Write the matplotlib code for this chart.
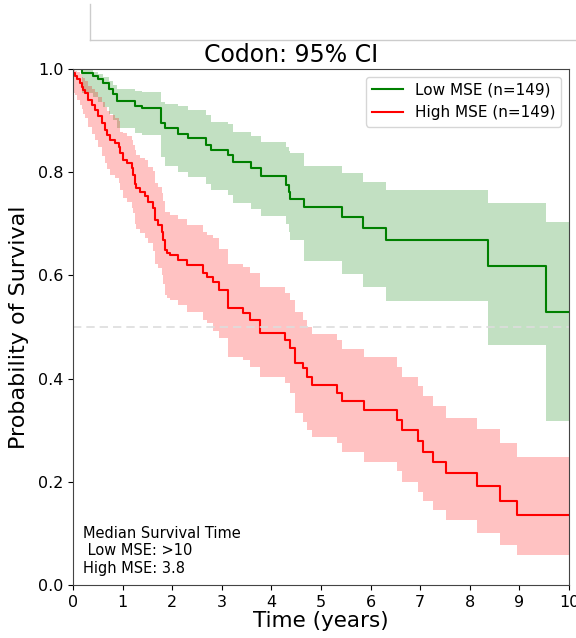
import numpy as np
import matplotlib as mpl
mpl.use('Agg')
import matplotlib.pyplot as plt
from matplotlib.lines import Line2D

# Low MSE (green) Kaplan-Meier steps: time, survival, 95% CI low / high
low_t = [0.0, 0.18, 0.41, 0.51, 0.61, 0.73, 0.81, 0.89, 1.25, 1.39, 1.77, 1.85, 2.12, 2.32,
         2.68, 2.78, 3.13, 3.22, 3.59, 3.79, 4.29, 4.36, 4.38, 4.66, 5.43, 5.85, 6.32, 8.36, 9.54]
low_s = [1.0, 0.993, 0.987, 0.980, 0.972, 0.961, 0.951, 0.938, 0.929, 0.924, 0.895, 0.885, 0.875, 0.867,
         0.853, 0.843, 0.833, 0.820, 0.808, 0.793, 0.775, 0.762, 0.748, 0.732, 0.713, 0.691, 0.669, 0.619, 0.529]
low_lo = [1.0, 0.953, 0.946, 0.937, 0.926, 0.913, 0.901, 0.885, 0.876, 0.872, 0.830, 0.812, 0.800, 0.790,
          0.778, 0.766, 0.755, 0.740, 0.728, 0.716, 0.700, 0.685, 0.668, 0.627, 0.603, 0.577, 0.551, 0.465, 0.318]
low_hi = [1.0, 0.999, 0.995, 0.990, 0.984, 0.977, 0.970, 0.962, 0.958, 0.955, 0.937, 0.933, 0.928, 0.921,
          0.911, 0.898, 0.893, 0.878, 0.871, 0.859, 0.849, 0.842, 0.837, 0.812, 0.798, 0.782, 0.766, 0.740, 0.704]

# High MSE (red)
high_t = [0.0, 0.01, 0.04, 0.08, 0.14, 0.18, 0.21, 0.24, 0.31, 0.38, 0.44, 0.51, 0.58, 0.65, 0.68,
          0.75, 0.85, 0.93, 0.95, 1.01, 1.09, 1.18, 1.21, 1.25, 1.28, 1.36, 1.45, 1.52, 1.62, 1.66,
          1.72, 1.79, 1.82, 1.85, 1.89, 1.96, 2.12, 2.29, 2.62, 2.70, 2.83, 2.95, 3.13, 3.43, 3.57,
          3.78, 4.27, 4.37, 4.48, 4.64, 4.71, 4.82, 5.32, 5.42, 5.86, 6.54, 6.63, 6.96, 7.06, 7.26,
          7.53, 8.14, 8.60, 8.96]
high_s = [1.0, 0.993, 0.987, 0.980, 0.973, 0.966, 0.960, 0.953, 0.940, 0.930, 0.920, 0.909, 0.895, 0.882, 0.872,
          0.862, 0.856, 0.849, 0.837, 0.824, 0.817, 0.808, 0.795, 0.778, 0.769, 0.762, 0.753, 0.743, 0.730, 0.707,
          0.698, 0.685, 0.668, 0.649, 0.643, 0.640, 0.630, 0.620, 0.604, 0.597, 0.588, 0.572, 0.536, 0.527, 0.514,
          0.488, 0.475, 0.459, 0.431, 0.420, 0.404, 0.388, 0.373, 0.357, 0.339, 0.320, 0.300, 0.280, 0.258, 0.239,
          0.218, 0.191, 0.163, 0.136]
high_lo = [1.0, 0.953, 0.950, 0.940, 0.930, 0.922, 0.913, 0.905, 0.888, 0.874, 0.862, 0.848, 0.832, 0.818, 0.806,
           0.795, 0.788, 0.780, 0.765, 0.750, 0.742, 0.731, 0.720, 0.700, 0.690, 0.683, 0.672, 0.662, 0.648, 0.623,
           0.614, 0.600, 0.583, 0.563, 0.557, 0.553, 0.543, 0.530, 0.514, 0.508, 0.492, 0.478, 0.442, 0.436, 0.423,
           0.404, 0.391, 0.372, 0.333, 0.315, 0.300, 0.287, 0.275, 0.258, 0.239, 0.220, 0.200, 0.181, 0.163, 0.145,
           0.126, 0.100, 0.078, 0.058]
high_hi = [1.0, 0.999, 0.997, 0.994, 0.990, 0.985, 0.982, 0.977, 0.968, 0.962, 0.955, 0.946, 0.936, 0.926, 0.918,
           0.910, 0.905, 0.900, 0.878, 0.876, 0.870, 0.863, 0.852, 0.843, 0.833, 0.827, 0.824, 0.810, 0.802, 0.780,
           0.772, 0.760, 0.745, 0.723, 0.722, 0.717, 0.710, 0.698, 0.685, 0.679, 0.672, 0.652, 0.623, 0.616, 0.604,
           0.578, 0.565, 0.552, 0.530, 0.514, 0.500, 0.486, 0.475, 0.457, 0.441, 0.423, 0.404, 0.386, 0.366, 0.347,
           0.323, 0.302, 0.276, 0.249]

t_end = 10.0
groups = [
    ("Low MSE (n=149)", low_t, low_s, low_lo, low_hi, "green"),
    ("High MSE (n=149)", high_t, high_s, high_lo, high_hi, "red"),
]
median_text = "Median Survival Time\n Low MSE: >10\nHigh MSE: 3.8"

fig = plt.figure(figsize=(5.76, 6.38), dpi=100)
ax = fig.add_axes([0.1267, 0.0831, 0.8611, 0.8087])

for label, t, s, lo, hi, col in groups:
    t = np.append(t, t_end)
    s = np.append(s, s[-1])
    lo = np.append(lo, lo[-1])
    hi = np.append(hi, hi[-1])
    ax.fill_between(t, lo, hi, step='post', color=col, alpha=0.24, linewidth=0)
    ax.step(t, s, where='post', color=col, linewidth=1.5, label=label)

ax.axhline(0.5, color='#dddddd', linestyle='--', linewidth=1.2, dashes=(5, 3))

ax.set_xlim(0, 10)
ax.set_ylim(0, 1.0)
ax.set_xticks(range(0, 11))
ax.set_yticks([0.0, 0.2, 0.4, 0.6, 0.8, 1.0])
ax.tick_params(labelsize=11.5)
for sp in ax.spines.values():
    sp.set_color('#444444')
ax.set_title("Codon: 95% CI", fontsize=17, x=0.44, pad=5)
ax.set_xlabel("Time (years)", fontsize=15.5, labelpad=1)
ax.set_ylabel("Probability of Survival", fontsize=16, labelpad=6)
ax.legend(loc='upper right', fontsize=11)
ax.text(0.02, 0.018, median_text, transform=ax.transAxes, fontsize=10.5,
        va='bottom', ha='left')

# leftover frame lines at the top of the picture
fig.add_artist(Line2D([90 / 576, 1.0], [1 - 40 / 638, 1 - 40 / 638], color='#cccccc', linewidth=1))
fig.add_artist(Line2D([90 / 576, 90 / 576], [1 - 40 / 638, 1 - 4 / 638], color='#cccccc', linewidth=1))

plt.savefig("out.png", dpi=100)
